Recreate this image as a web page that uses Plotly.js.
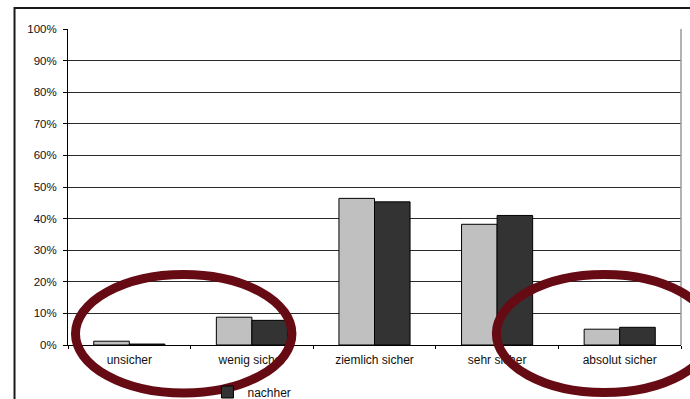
<!DOCTYPE html>
<html>
<head>
<meta charset="utf-8">
<script src="https://cdn.plot.ly/plotly-3.0.1.min.js"></script>
<style>
  html, body { margin: 0; padding: 0; background: #ffffff; }
  #chart { width: 690px; height: 399px; }
</style>
</head>
<body>
<div id="chart"></div>
<script>
// Data
const categories = ["unsicher", "wenig sicher", "ziemlich sicher", "sehr sicher", "absolut sicher"];
const seriesNames = ["vorher", "nachher"];
const vorher = [1.2, 8.8, 46.4, 38.2, 5.0];
const nachher = [0.3, 7.8, 45.3, 41.0, 5.6];
const yTickValues = [0, 10, 20, 30, 40, 50, 60, 70, 80, 90, 100];
const yTickLabels = ["0%", "10%", "20%", "30%", "40%", "50%", "60%", "70%", "80%", "90%", "100%"];

const W = 690, H = 399;
const mL = 67.5, mR = 9.3, mT = 29, mB = 54;
const pw = W - mL - mR, ph = H - mT - mB;
const px = x => (x - mL) / pw;          // pixel -> paper x
const py = y => (H - mB - y) / ph;      // pixel -> paper y

const ring = "#660a13";

const traces = [
  {
    type: "bar", name: seriesNames[0], x: categories, y: vorher,
    marker: { color: "#c0c0c0", line: { color: "#000000", width: 1 } },
    showlegend: false, hoverinfo: "none"
  },
  {
    type: "bar", name: seriesNames[1], x: categories, y: nachher,
    marker: { color: "#333333", line: { color: "#000000", width: 1 } },
    hoverinfo: "none"
  }
];

const layout = {
  width: W, height: H,
  margin: { l: mL, r: mR, t: mT, b: mB, pad: 0, autoexpand: false },
  paper_bgcolor: "#ffffff", plot_bgcolor: "#ffffff",
  font: { family: "Liberation Sans, Arial, sans-serif", color: "#111111", size: 12 },
  barmode: "group", bargap: 0.42, bargroupgap: 0,
  showlegend: true,
  legend: {
    orientation: "h", x: px(207), y: py(392), xanchor: "left", yanchor: "middle",
    font: { size: 12, color: "#111111" }, bgcolor: "rgba(0,0,0,0)",
    itemwidth: 30
  },
  xaxis: {
    type: "category", showgrid: false, zeroline: false,
    showline: true, linecolor: "#000000", linewidth: 1,
    ticks: "outside", tickson: "boundaries", ticklen: 3, tickcolor: "#000000",
    ticklabelstandoff: 4,
    tickfont: { size: 12, color: "#111111" }, fixedrange: true
  },
  yaxis: {
    range: [0, 100], tickvals: yTickValues, ticktext: yTickLabels,
    showgrid: true, gridcolor: "#2a2a2a", gridwidth: 1,
    zeroline: false, showline: true, linecolor: "#000000", linewidth: 1,
    ticks: "outside", ticklen: 4, tickcolor: "#000000",
    ticklabelstandoff: 4,
    tickfont: { size: 11.5, color: "#111111" }, fixedrange: true
  },
  shapes: [
    // right border of plot area
    { type: "line", xref: "paper", yref: "paper", x0: 1, x1: 1, y0: 0, y1: 1,
      line: { color: "#9a9a9a", width: 1.5 }, layer: "above" },
    // outer frame
    { type: "rect", xref: "paper", yref: "paper",
      x0: px(14), x1: px(705), y0: py(415), y1: py(8),
      line: { color: "#1a1a1a", width: 2 }, layer: "above" },
    // highlight rings
    { type: "circle", xref: "paper", yref: "paper",
      x0: px(75), x1: px(291.5), y0: py(393), y1: py(274.5),
      line: { color: ring, width: 9 }, layer: "above" },
    { type: "circle", xref: "paper", yref: "paper",
      x0: px(496), x1: px(712), y0: py(392.5), y1: py(274.5),
      line: { color: ring, width: 9 }, layer: "above" }
  ]
};

Plotly.newPlot("chart", traces, layout, { staticPlot: true, displayModeBar: false });
</script>
</body>
</html>
